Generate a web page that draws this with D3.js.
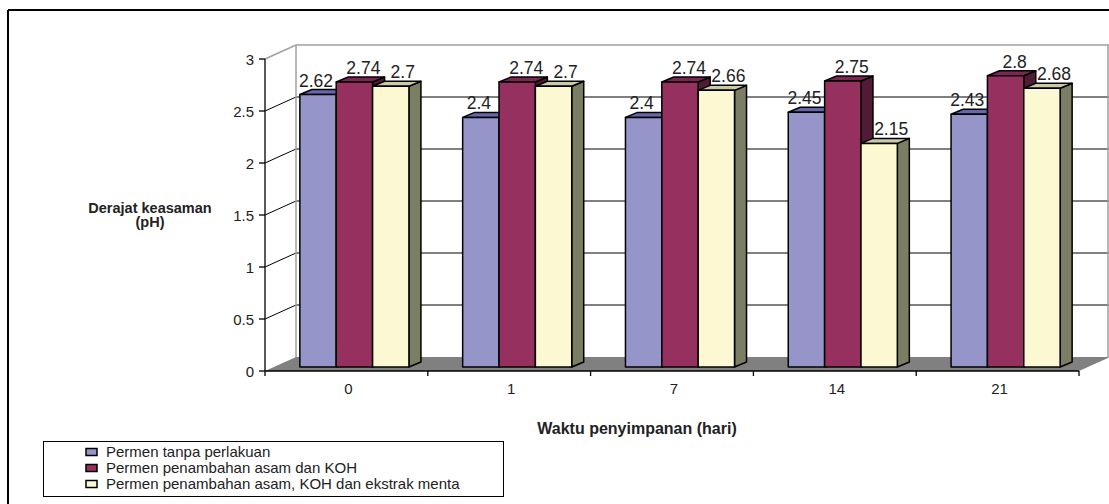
<!DOCTYPE html>
<html><head><meta charset="utf-8">
<script src="https://cdn.jsdelivr.net/npm/d3@7"></script>
<style>body{margin:0;background:#fff}svg{display:block;font-family:Arial,"Liberation Sans",sans-serif}</style>
</head><body>
<svg id="c" width="1109" height="504"></svg>
<script>
const categories = ["0","1","7","14","21"];
const seriesNames = ["Permen tanpa perlakuan","Permen penambahan asam dan KOH","Permen penambahan asam, KOH dan ekstrak menta"];
const seriesA = [2.62,2.4,2.4,2.45,2.43];
const seriesB = [2.74,2.74,2.74,2.75,2.8];
const seriesC = [2.7,2.7,2.66,2.15,2.68];
const yTicks = [0,0.5,1,1.5,2,2.5,3];
const yTickLabels = ["0","0.5","1","1.5","2","2.5","3"];

const series = [seriesA, seriesB, seriesC];
const front = ["#9595c9","#96305f","#fcf8d2"];
const tops = ["#6767ad","#7b2751","#ccc9a5"];
const sides = ["#5a5a90","#511a35","#7c7e63"];
const labelDx = [-2, 9, 12];

const svg = d3.select("#c");
const X0 = 265, X1 = 1079, YB = 371, YT = 59;
const DX = 31, DY = -14;
const BDX = 8, BDY = -4;
const BW = 12, BH = -5;

const y = d3.scaleLinear().domain([0,3]).range([YB, YT]);
const x = d3.scaleBand().domain(categories).range([X0, X1]).paddingInner(0.33).paddingOuter(0.165);
const xs = d3.scaleBand().domain([0,1,2]).range([0, x.bandwidth()]);

svg.append("line").attr("x1",8).attr("x2",1109).attr("y1",10).attr("y2",10).attr("stroke","#000").attr("stroke-width",2);
svg.append("line").attr("x1",8).attr("x2",8).attr("y1",10).attr("y2",504).attr("stroke","#000").attr("stroke-width",2);

svg.append("polygon")
  .attr("points", [[X0,YB],[X1,YB],[X1+DX,YB+DY],[X0+DX,YB+DY]].map(p=>p.join(",")).join(" "))
  .attr("fill","#808080");

const g = svg.append("g");
yTicks.filter(t=>t>0 && t<3).forEach(t=>{
  g.append("line").attr("x1",X0+DX).attr("x2",X1+DX+2).attr("y1",y(t)+DY).attr("y2",y(t)+DY).attr("stroke","#000").attr("stroke-width",1);
  g.append("line").attr("x1",X0).attr("x2",X0+DX).attr("y1",y(t)).attr("y2",y(t)+DY).attr("stroke","#000").attr("stroke-width",1);
});
g.append("path").attr("d",`M${X0},${y(3)} L${X0+DX},${y(3)+DY} L${X1+DX+2},${y(3)+DY}`).attr("fill","none").attr("stroke","#a0a0a0").attr("stroke-width",1.5);
g.append("line").attr("x1",X0+DX).attr("x2",X0+DX).attr("y1",y(3)+DY).attr("y2",y(0)+DY).attr("stroke","#a0a0a0").attr("stroke-width",1.5);
g.append("line").attr("x1",X1+DX-2).attr("x2",X1+DX-2).attr("y1",y(3)+DY).attr("y2",y(0)+DY).attr("stroke","#a0a0a0").attr("stroke-width",1.5);

const bars = svg.append("g").attr("stroke","#000").attr("stroke-width",1.5).attr("stroke-linejoin","round");
categories.forEach((c,i)=>{
  series.forEach((s,k)=>{
    const v = s[i];
    const xl = x(c) + xs(k) + BDX, xr = xl + xs.bandwidth();
    const yt = y(v) + BDY, yb = y(0) + BDY;
    bars.append("polygon").attr("points",[[xr,yt],[xr+BW,yt+BH],[xr+BW,yb+BH],[xr,yb]].map(p=>p.join(",")).join(" ")).attr("fill",sides[k]);
    bars.append("polygon").attr("points",[[xl,yt],[xl+BW,yt+BH],[xr+BW,yt+BH],[xr,yt]].map(p=>p.join(",")).join(" ")).attr("fill",tops[k]);
    bars.append("rect").attr("x",xl).attr("y",yt).attr("width",xr-xl).attr("height",yb-yt).attr("fill",front[k]);
  });
});
categories.forEach((c,i)=>{
  series.forEach((s,k)=>{
    const v = s[i];
    const cx = x(c) + xs(k) + BDX + xs.bandwidth()/2 + labelDx[k];
    svg.append("text").attr("x",cx).attr("y",y(v)+BDY-8).attr("text-anchor","middle")
      .attr("font-size",17.5).attr("fill","#222").text(String(v));
  });
});

const ax = svg.append("g").attr("stroke","#000").attr("stroke-width",1.3);
ax.append("line").attr("x1",X0).attr("x2",X0).attr("y1",YT).attr("y2",YB+5);
ax.append("line").attr("x1",X0).attr("x2",X1).attr("y1",YB).attr("y2",YB);
yTicks.forEach(t=>{
  ax.append("line").attr("x1",X0-6).attr("x2",X0).attr("y1",y(t)).attr("y2",y(t));
});
const step = x.step();
categories.forEach((c,i)=>{
  const xb = X0 + step*(i+1);
  ax.append("line").attr("x1",xb).attr("x2",xb).attr("y1",YB).attr("y2",YB+5);
});
yTicks.forEach((t,i)=>{
  svg.append("text").attr("x",254).attr("y",y(t)+5.5).attr("text-anchor","end").attr("font-size",15).attr("fill","#222").text(yTickLabels[i]);
});
categories.forEach(c=>{
  svg.append("text").attr("x",x(c)+x.bandwidth()/2+2).attr("y",394).attr("text-anchor","middle").attr("font-size",15).attr("fill","#222").text(c);
});

svg.append("text").attr("x",150).attr("y",213).attr("text-anchor","middle").attr("font-size",14.5).attr("font-weight","bold").attr("fill","#222").text("Derajat keasaman");
svg.append("text").attr("x",150).attr("y",227).attr("text-anchor","middle").attr("font-size",14.5).attr("font-weight","bold").attr("fill","#222").text("(pH)");
svg.append("text").attr("x",637).attr("y",434).attr("text-anchor","middle").attr("font-size",16).attr("font-weight","bold").attr("fill","#222").text("Waktu penyimpanan (hari)");

const lg = svg.append("g");
lg.append("rect").attr("x",43.5).attr("y",441.5).attr("width",460).attr("height",55).attr("fill","#fff").attr("stroke","#000").attr("stroke-width",1);
seriesNames.forEach((n,k)=>{
  const yy = 451.5 + k*16;
  lg.append("rect").attr("x",86).attr("y",yy-3).attr("width",11).attr("height",7).attr("fill",front[k]).attr("stroke","#000").attr("stroke-width",1.5);
  lg.append("text").attr("x",106).attr("y",yy+5).attr("font-size",15).attr("fill","#222").text(n);
});
</script>
</body></html>
